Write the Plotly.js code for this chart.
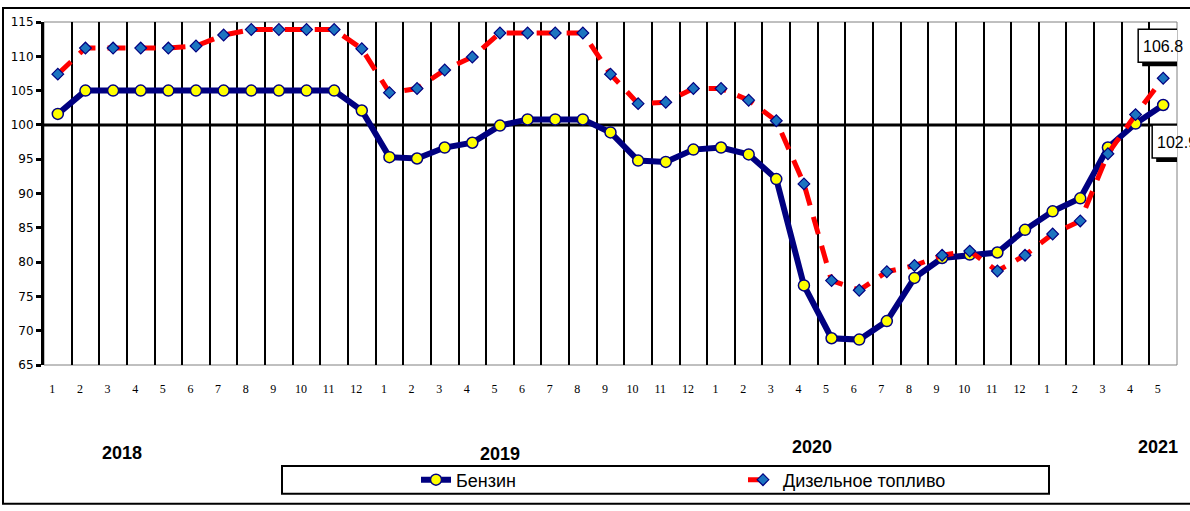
<!DOCTYPE html>
<html>
<head>
<meta charset="utf-8">
<script src="https://cdn.plot.ly/plotly-3.0.1.min.js"></script>
<style>
  body { margin: 0; background: #fff; }
  #chart { width: 1190px; height: 511px; }
</style>
</head>
<body>
<div id="chart"></div>
<script>
// Monthly price index, same month of previous year = 100
const years = ['2018', '2019', '2020', '2021'];
const monthsPerYear = [12, 12, 12, 5];

const petrol = [
    101.6, 105.0, 105.0, 105.0, 105.0, 105.0, 105.0, 105.0, 105.0, 105.0, 105.0, 102.1,
    95.3, 95.1, 96.7, 97.4, 99.9, 100.8, 100.8, 100.8, 98.9, 94.8, 94.6, 96.4,
    96.7, 95.7, 92.1, 76.6, 68.9, 68.7, 71.4, 77.7, 80.6, 81.1, 81.4, 84.7,
    87.4, 89.3, 96.7, 100.2, 102.9
];
const diesel = [
    107.4, 111.2, 111.2, 111.2, 111.2, 111.5, 113.1, 113.9, 113.9, 113.9, 113.9, 111.1,
    104.7, 105.3, 108.0, 109.9, 113.4, 113.4, 113.4, 113.4, 107.4, 103.1, 103.3, 105.3,
    105.3, 103.6, 100.6, 91.4, 77.3, 75.9, 78.6, 79.5, 81.0, 81.6, 78.7, 81.0,
    84.1, 86.0, 95.8, 101.5, 106.8
];

const seriesNames = ['Бензин', 'Дизельное топливо'];

// month labels 1..12 for each year
const monthLabels = [];
monthsPerYear.forEach(n => {
    for (let m = 1; m <= n; m++) monthLabels.push(String(m));
});
const idx = monthLabels.map((_, i) => i);
const n = idx.length;

// boundaries between months -> vertical grid
const boundaries = [];
for (let i = 0; i < n; i++) boundaries.push(i - 0.5);

const traces = [
    {
        x: idx, y: petrol, name: seriesNames[0],
        type: 'scatter', mode: 'lines+markers',
        line: { color: '#000080', width: 6 },
        marker: { symbol: 'circle', size: 11, color: '#ffff00',
                  line: { color: '#000080', width: 1.5 } }
    },
    {
        x: idx, y: diesel, name: seriesNames[1],
        type: 'scatter', mode: 'lines+markers',
        line: { color: '#ff0000', width: 5, dash: '18px,12px' },
        marker: { symbol: 'diamond', size: 9, color: '#1c74c0',
                  line: { color: '#000080', width: 1.2 } }
    }
];

// pixel helpers for label placement
const L = 44, R = 13, T = 22, B = 143, W = 1190, H = 511;
const pw = W - L - R, ph = H - T - B;
const px = x => (x - L) / pw;
const py = y => (H - B - y) / ph;

const yearX = [122, 500, 812, 1158];
const yearY = [457, 458, 451, 451];

const annotations = years.map((yr, i) => ({
    text: '<b>' + yr + '</b>',
    xref: 'paper', yref: 'paper',
    x: px(yearX[i]), y: py(yearY[i]),
    xanchor: 'center', yanchor: 'middle',
    showarrow: false,
    font: { family: 'Liberation Sans Narrow, Liberation Sans, Arial', size: 18, color: '#000' }
}));

const shapes = [
    // outer chart frame
    { type: 'rect', xref: 'paper', yref: 'paper',
      x0: px(3), x1: px(1196), y0: py(508), y1: py(8),
      line: { color: '#000', width: 2 } },
    // plot area frame
    { type: 'rect', xref: 'paper', yref: 'paper', x0: 0, x1: 1, y0: 0, y1: 1,
      line: { color: '#808080', width: 1 }, layer: 'below' },
    // axis crossing at 100
    { type: 'line', xref: 'paper', yref: 'y', x0: 0, x1: 1, y0: 100, y1: 100,
      line: { color: '#000', width: 3 }, layer: 'below' },
    // legend box
    { type: 'rect', xref: 'paper', yref: 'paper',
      x0: px(282), x1: px(1049), y0: py(498), y1: py(470),
      line: { color: '#000', width: 2 } }
];

// value labels for the last month: box + drop shadow, anchored at the point
function valueLabel(yv, box, xs, ys) {
    const anchor = { xref: 'x', yref: 'y', xsizemode: 'pixel', ysizemode: 'pixel',
                     xanchor: n - 1, yanchor: yv, type: 'rect' };
    shapes.push(Object.assign({}, anchor, {
        x0: box[0] + 4, x1: box[1] + 4, y0: box[2] - 4, y1: box[3] - 4,
        fillcolor: '#000', line: { width: 0 } }));
    shapes.push(Object.assign({}, anchor, {
        x0: box[0], x1: box[1], y0: box[2], y1: box[3],
        fillcolor: '#fff', line: { color: '#000', width: 1.5 } }));
    annotations.push({
        x: n - 1, y: yv, xref: 'x', yref: 'y', xshift: xs, yshift: ys,
        text: yv.toFixed(1), showarrow: false,
        font: { family: 'Liberation Sans, Arial', size: 16, color: '#000' }
    });
}
valueLabel(diesel[n - 1], [-25, 25, 16, 49], 0, 32);
valueLabel(petrol[n - 1], [-11, 45, -53, -20], 14, -37);

const layout = {
    width: W, height: H,
    margin: { l: L, r: R, t: T, b: B },
    paper_bgcolor: '#fff', plot_bgcolor: '#fff',
    showlegend: true,
    legend: {
        orientation: 'h', x: px(416), y: py(484),
        xanchor: 'left', yanchor: 'middle',
        entrywidth: 282, entrywidthmode: 'pixels',
        bgcolor: 'rgba(0,0,0,0)', borderwidth: 0,
        font: { family: 'Liberation Sans, Arial', size: 18, color: '#000' }
    },
    xaxis: {
        range: [-0.5, n - 0.5],
        tickmode: 'array', tickvals: idx.map(i => i - 0.2), ticktext: monthLabels,
        ticks: 'outside', ticklen: 13, tickcolor: 'rgba(0,0,0,0)',
        showgrid: false, zeroline: false, showline: false,
        tickfont: { family: 'Liberation Serif, Times New Roman', size: 12, color: '#000' },
        minor: { tickmode: 'array', tickvals: boundaries, showgrid: true,
                 gridcolor: '#000', gridwidth: 2, ticks: '' },
        fixedrange: true
    },
    yaxis: {
        range: [65, 115], dtick: 5, tick0: 65,
        ticks: 'outside', ticklen: 5, tickwidth: 3, tickcolor: '#000',
        showgrid: false, zeroline: false,
        showline: true, linecolor: '#000', linewidth: 3,
        tickfont: { family: 'DejaVu Sans, Verdana', size: 12, color: '#000' },
        fixedrange: true
    },
    shapes: shapes,
    annotations: annotations
};

Plotly.newPlot('chart', traces, layout, { displayModeBar: false, staticPlot: true });
</script>
</body>
</html>
